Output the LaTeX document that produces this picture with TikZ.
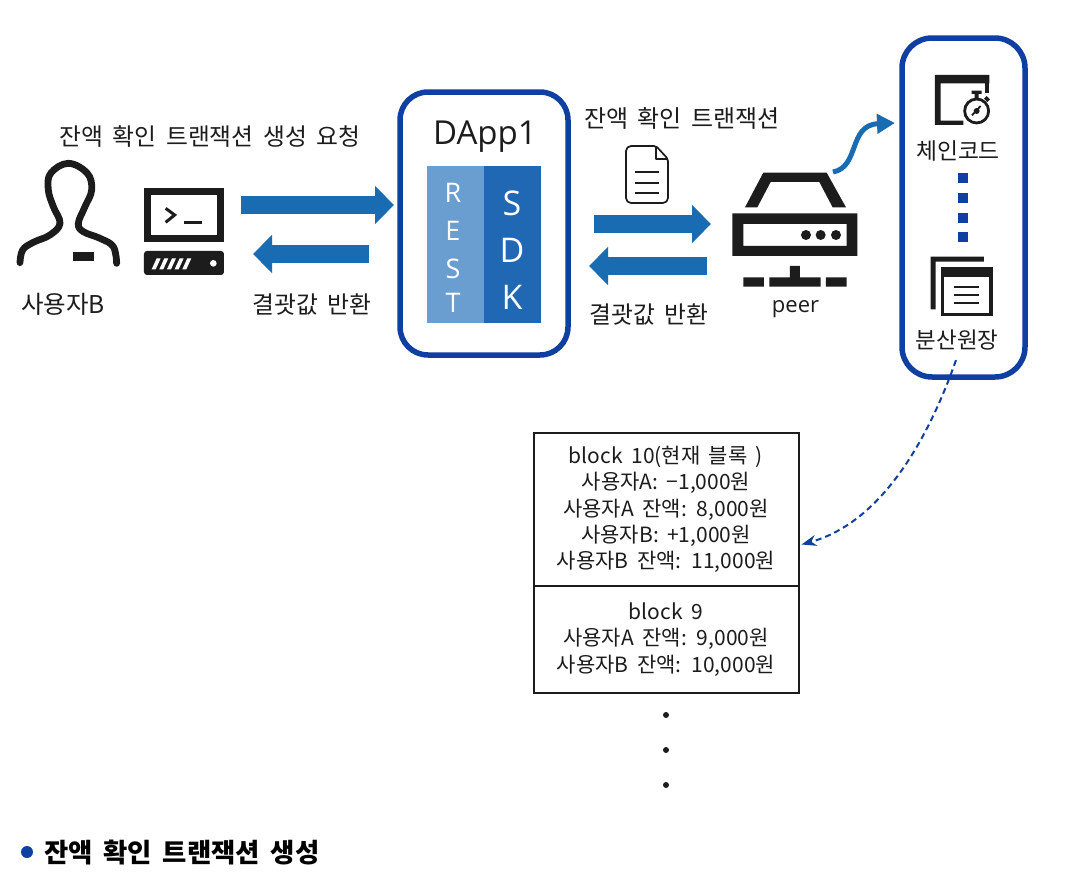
\documentclass[tikz,border=0pt]{standalone}
\usepackage{fontspec}
\setmainfont[WordSpace=1.8]{Noto Sans CJK KR}
\newfontfamily\latinf{Open Sans}
\usetikzlibrary{arrows.meta,calc}
\definecolor{arrowblue}{HTML}{1A6CB2}
\definecolor{boxblue}{HTML}{0F3FA0}
\definecolor{restblue}{HTML}{6A9DD0}
\definecolor{sdkblue}{HTML}{2067B4}
\definecolor{inkc}{HTML}{1C1C1C}
\newcommand{\fs}[1]{\fontsize{#1}{#1}\selectfont}
\tikzset{
  lbl/.style={font=\fs{23.8},text=inkc,inner sep=0,outer sep=0},
  holder/.style={inner sep=0,outer sep=0,minimum width=#1},
  bigbox/.style={draw=boxblue,line width=5.5pt,rounded corners=28pt,fill=white,inner sep=0,outer sep=0},
  bigarrow/.style={draw=arrowblue,line width=18pt,-{Triangle[length=19pt,width=37pt]}},
  ledgerbox/.style={draw=inkc,line width=2pt,minimum width=265pt,inner sep=0,outer sep=0,align=center,font=\fontsize{21}{26.4}\selectfont,text=inkc},
  letter/.style={text=white,inner sep=0,outer sep=0}
}
\begin{document}
\begin{tikzpicture}[x=1pt,y=-1pt]
\useasboundingbox (0,0) rectangle (1088,894);
\fill[white] (0,0) rectangle (1088,894);

% holders
\node[holder=80pt,minimum height=87pt] (term) at (184,231.5) {};
\node[bigbox,minimum width=168pt,minimum height=263pt] (dapp) at (484,223.5) {};
\node[holder=125pt,minimum height=114pt] (peer) at (794.5,230) {};
\node[bigbox,rounded corners=30pt,minimum width=123pt,minimum height=339pt] (chain) at (963.5,207.5) {};

% labels
\node[lbl] (reqlbl) at (210,137) {잔액 확인 트랜잭션 생성 요청};
\node[lbl,font=\fs{24.5}] (userlbl) at (63,304) {사용자B};
\node[lbl] (ret1) at (312,305) {결괏값 반환};
\node[lbl,font=\fs{24}] (txlbl) at (682,118) {잔액 확인 트랜잭션};
\node[lbl] (ret2) at (649,315) {결괏값 반환};
\node[lbl,font=\fs{22}\latinf] (peerlbl) at (795.5,309) {peer};
\node[lbl,font=\fs{22.8}] (cclbl) at (958,151) {체인코드};
\node[lbl,font=\fs{22.5}] (dllbl) at (957,340) {분산원장};

% user icon
\begin{scope}[shift={(0,110)},x=.3333pt,y=-.3333pt]
\draw[inkc,line width=6.8pt,line cap=round,line join=round] plot[smooth,tension=.65] coordinates {(60,458) (68,420) (100,397) (150,375) (180,340) (160,290) (145,240) (152,190) (205,160) (262,190) (275,240) (255,290) (235,340) (250,365) (300,385) (340,410) (350,460)};
\fill[inkc] (218,425) rectangle (282,452);
% terminal
\draw[inkc,line width=7pt] (443,246) rectangle (662,386);
\draw[inkc,line width=3pt,line join=miter] (497,295) -- (524,315) -- (497,337);
\draw[inkc,line width=3pt] (553,338) -- (606,338);
\fill[inkc,rounded corners=3pt] (432,423) rectangle (672,495);
\foreach \i in {0,1,2,3,4} {
  \fill[white] ({455+\i*23},478) -- ({470+\i*23},445) -- ({482+\i*23},445) -- ({467+\i*23},478) -- cycle;
}
\fill[white] (640,460) circle (10);
\end{scope}

% DApp contents
\node[lbl,font=\fs{33}\latinf] (dapptitle) at (485,137) {DApp1};
\fill[restblue] (427,166) rectangle (484,323);
\fill[sdkblue] (484,166) rectangle (541,323);
\node[letter,font=\fs{27}\latinf] (r) at (453,193) {R};
\node[letter,font=\fs{27}\latinf] (e) at (453,231) {E};
\node[letter,font=\fs{27}\latinf] (s) at (453,269) {S};
\node[letter,font=\fs{27}\latinf] (t) at (453,303) {T};
\node[letter,font=\fs{34}\latinf] (s2) at (512,203) {S};
\node[letter,font=\fs{34}\latinf] (d2) at (512,250) {D};
\node[letter,font=\fs{34}\latinf] (k2) at (512,297) {K};

% document icon
\draw[inkc,line width=1.7pt,line join=round,fill=white,rounded corners=2pt] (656,146) -- (629,146) -- (626,149) -- (626,200) -- (629,203) -- (665,203) -- (668,200) -- (668,159) -- cycle;
\draw[inkc,line width=1.7pt,line join=round] (656,146) -- (656,159) -- (668,159);
\draw[inkc,line width=1.7pt] (635,172) -- (659,172) (635,183) -- (659,183) (635,193) -- (659,193);

% block arrows
\draw[bigarrow] ([shift={(17,-26.5)}]term.east) -- ([shift={(-6,-18.5)}]dapp.west);
\draw[bigarrow] ([shift={(-31,30.5)}]dapp.west) -- ([shift={(29,22.5)}]term.east);
\draw[bigarrow] ([shift={(26,0.5)}]dapp.east) -- ([shift={(-21,-6)}]peer.west);
\draw[bigarrow] ([shift={(-25,36)}]peer.west) -- ([shift={(21,42.5)}]dapp.east);

% peer icon
\begin{scope}[shift={(700,30)},x=.3333pt,y=-.3333pt]
\fill[inkc,even odd rule] (135,532) -- (190,428) -- (380,428) -- (438,532) -- (398,532) -- (358,456) -- (212,456) -- (172,532) -- cycle;
\fill[inkc,even odd rule] (97,550) rectangle (472,678) (130,582) rectangle (440,648);
\fill[inkc] (318,615) circle (15) (362,615) circle (15) (408,615) circle (15);
\fill[inkc] (130,742) rectangle (192,770) (208,742) rectangle (362,770) (270,708) rectangle (300,742) (378,742) rectangle (440,770);
% chaincode icon
\fill[inkc] (705,135) rectangle (868,160) (705,160) rectangle (722,285) (722,272) rectangle (790,285);
\fill[inkc] (855,160) rectangle (868,190);
\draw[inkc,line width=2.8pt,fill=white] (830,243) circle (36);
\fill[inkc] (815,182) rectangle (845,192) (824,190) rectangle (836,205);
\fill[inkc] (860,198) -- (870,208) -- (862,216) -- (852,206) -- cycle;
\draw[inkc,line width=1.8pt] (816,256) -- (842,228);
\fill[inkc] (830,243) circle (9);
% dots
\foreach \yy in {428,490,548,607} { \fill[boxblue] (773,\yy) rectangle (805,{\yy+30}); }
% ledger icon
\fill[inkc] (692,680) rectangle (852,695) (692,695) rectangle (707,838);
\draw[inkc,line width=3.6pt] (727,715) rectangle (873,853);
\fill[inkc] (722,710) rectangle (878,742);
\draw[inkc,line width=1.9pt] (762,772) -- (838,772) (762,796) -- (838,796) (762,820) -- (838,820);
\end{scope}

% curved arrow
\coordinate (ccin) at ([shift={(-7,-84.5)}]chain.west);
\draw[arrowblue,line width=5pt,-{Triangle[length=18pt,width=19pt]}] ([shift={(-24,-1)}]peer.north east) ..  controls (860,167) and (848,125) .. (ccin);

% ledger blocks
\node[ledgerbox,minimum height=153pt,anchor=north] (b10) at (666,433) {%
  block 10(현재 블록 )\\
  사용자A: −1,000원\\
  사용자A 잔액: 8,000원\\
  사용자B: +1,000원\\
  사용자B 잔액: 11,000원};
\node[ledgerbox,minimum height=107pt,anchor=north] (b9) at (b10.south) {%
  block 9\\
  사용자A 잔액: 9,000원\\
  사용자B 잔액: 10,000원};
\fill[inkc] (666,715) circle (3) (666,750) circle (3) (666,785) circle (3);

% dashed connector
\draw[boxblue,line width=2pt,dash pattern=on 6pt off 4pt,-{Stealth[length=15pt,width=11pt]}] ([shift={(-1,10)}]dllbl.south) .. controls (935,420) and (890,520) .. ([shift={(3,35)}]b10.east);

% footer
\fill[boxblue] (27,852) circle (6);
\node[lbl,anchor=west,font=\fs{26.4}\bfseries,text=black] (foot) at (44,853) {잔액 확인 트랜잭션 생성};
\end{tikzpicture}
\end{document}
